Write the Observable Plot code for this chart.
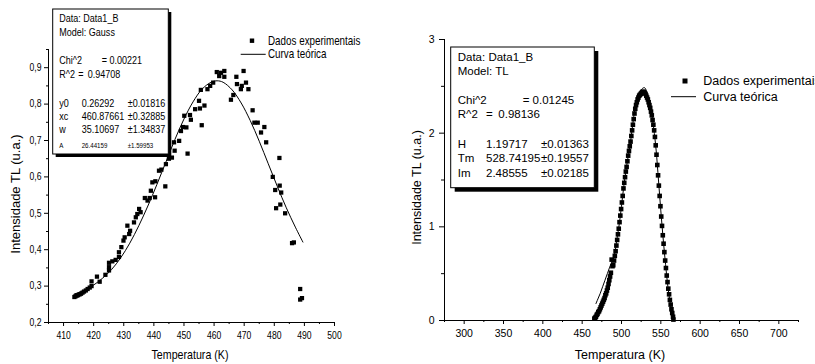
<!DOCTYPE html>
<html><head><meta charset="utf-8">
<script src="https://cdn.jsdelivr.net/npm/d3@7"></script>
<script src="https://cdn.jsdelivr.net/npm/@observablehq/plot@0.6"></script>
<style>
body{margin:0;background:#fff;}
#wrap{position:relative;width:815px;height:364px;overflow:hidden;background:#fff;}
#left,#right{position:absolute;top:0;}
#left{left:0;} #right{left:410px;}
</style></head><body><div id="wrap"><div id="left"></div><div id="right"></div></div>
<script>
// ---------- LEFT PANEL DATA (Gauss fit) ----------
const leftTemp = [413.6,414.0,414.4,414.8,415.3,415.8,416.3,416.8,417.4,418.0,418.7,419.3,419.3,421.1,422.0,423.9,425.1,425.1,425.1,426.2,427.3,428.4,428.4,429.2,429.9,430.3,431.2,431.8,432.1,433.4,434.0,434.5,435.1,435.6,437.0,437.9,438.6,439.0,439.5,440.4,440.5,441.7,442.5,443.8,444.0,445.0,446.0,446.9,446.7,448.4,449.0,449.7,450.8,450.1,451.2,452.0,452.3,453.7,455.0,455.3,455.6,455.9,456.8,457.8,458.7,459.7,460.9,461.7,462.3,463.4,463.4,465.6,466.4,467.4,467.6,468.9,469.2,469.8,470.6,471.4,472.8,473.4,474.5,475.6,476.7,477.3,479.5,480.3,480.6,481.7,481.8,482.3,482.0,483.6,485.9,486.5,488.6,488.6,489.2];
const leftInt = [0.270,0.272,0.274,0.275,0.277,0.279,0.282,0.285,0.288,0.292,0.296,0.300,0.313,0.326,0.312,0.331,0.343,0.352,0.364,0.368,0.372,0.380,0.393,0.407,0.425,0.434,0.466,0.443,0.452,0.475,0.489,0.498,0.512,0.503,0.542,0.535,0.542,0.562,0.585,0.544,0.588,0.617,0.620,0.574,0.635,0.650,0.653,0.672,0.695,0.699,0.726,0.737,0.736,0.768,0.664,0.770,0.757,0.786,0.809,0.788,0.839,0.742,0.796,0.841,0.850,0.859,0.888,0.877,0.886,0.891,0.875,0.812,0.825,0.875,0.855,0.841,0.850,0.891,0.859,0.841,0.783,0.749,0.749,0.722,0.737,0.695,0.600,0.564,0.514,0.652,0.576,0.557,0.524,0.500,0.418,0.420,0.292,0.263,0.267];
const leftCurveT = [413.5,417,420,423,426,429,432,435,438,441,444,447,450,453,456,459,461,463,466,469,472,475,478,481,484,487,489.5];
const leftCurveI = [0.278,0.289,0.303,0.322,0.346,0.378,0.418,0.466,0.520,0.579,0.641,0.703,0.759,0.806,0.841,0.860,0.864,0.860,0.839,0.803,0.755,0.698,0.636,0.574,0.515,0.462,0.421];
const leftXDomain = [405, 500];
const leftYDomain = [0.2, 0.95];
const leftXTicks = [410,420,430,440,450,460,470,480,490,500];
const leftXMinor = [405,415,425,435,445,455,465,475,485,495];
const leftYTicks = [0.2,0.3,0.4,0.5,0.6,0.7,0.8,0.9];
const leftYMinor = [0.25,0.35,0.45,0.55,0.65,0.75,0.85,0.95];
const leftBox = [["Data: Data1_B"],["Model: Gauss"],["Chi^2","= 0.00221"],["R^2","=","0.94708"],["y0","0.26292","±0.01816"],["xc","460.87661","±0.32885"],["w","35.10697","±1.34837"],["A","26.44159","±1.59953"]];

// ---------- RIGHT PANEL DATA (TL fit) ----------
const rightTemp = [465.5,466.5,467.5,468.5,469.5,470.5,471.5,472.5,473.5,474.5,475.5,476.5,477.5,478.5,479.5,480.5,481.5,482.5,483.5,484.5,485.5,486.5,487.5,488.5,489.5,490.5,491.5,492.5,493.5,494.5,495.5,496.5,497.5,498.5,499.5,500.5,501.5,502.5,503.5,504.5,505.5,506.5,507.5,508.5,509.5,510.5,511.5,512.5,513.5,514.5,515.5,516.5,517.5,518.5,519.5,520.5,521.5,522.5,523.5,524.5,525.5,526.5,527.5,528.5,529.5,530.5,531.5,532.5,533.5,534.5,535.5,536.5,537.5,538.5,539.5,540.5,541.5,542.5,543.5,544.5,545.5,546.5,547.5,548.5,549.5,550.5,551.5,552.5,553.5,554.5,555.5,556.5,557.5,558.5,559.5,560.5,561.5,562.5,563.5,564.5,565.5,566.0];
const rightInt = [0.02,0.03,0.04,0.06,0.07,0.09,0.10,0.12,0.14,0.16,0.18,0.20,0.22,0.24,0.27,0.29,0.32,0.35,0.39,0.43,0.47,0.51,0.65,0.58,0.59,0.64,0.69,0.74,0.80,0.86,0.92,0.98,1.05,1.12,1.19,1.26,1.33,1.41,1.47,1.53,1.59,1.64,1.70,1.76,1.81,1.86,1.91,1.97,2.03,2.09,2.15,2.21,2.26,2.30,2.33,2.36,2.38,2.40,2.41,2.42,2.43,2.44,2.44,2.44,2.43,2.42,2.40,2.38,2.36,2.33,2.30,2.27,2.23,2.19,2.14,2.09,2.03,1.96,1.87,1.77,1.66,1.55,1.44,1.33,1.22,1.11,1.01,0.91,0.82,0.73,0.64,0.56,0.48,0.41,0.34,0.28,0.22,0.17,0.12,0.08,0.04,0.01];
const rightCurveT = [467.5,470,473,476,479,482,485,488,491,494,497,500,503,506,509,512,515,518,521,524,527,529.5,532,535,538,541,544,547,550,553,556,559,562,565,566.5];
const rightCurveI = [0.18,0.23,0.29,0.36,0.43,0.50,0.57,0.63,0.70,0.86,1.02,1.22,1.44,1.62,1.78,1.94,2.14,2.30,2.40,2.45,2.48,2.485,2.44,2.34,2.22,2.05,1.82,1.50,1.17,0.87,0.60,0.36,0.18,0.05,0.0];
const rightXDomain = [275, 725];
const rightYDomain = [0, 3];
const rightXTicks = [300,350,400,450,500,550,600,650,700];
const rightXMinor = [275,325,375,425,475,525,575,625,675,725];
const rightYTicks = [0,1,2,3];
const rightYMinor = [0.5,1.5,2.5];
const rightBox = [["Data: Data1_B"],["Model: TL"],["Chi^2","= 0.01245"],["R^2","=","0.98136"],["H","1.19717","±0.01363"],["Tm","528.74195","±0.19557"],["Im","2.48555","±0.02185"]];

const legendLabels = ["Dados experimentais", "Curva teórica"];
const xTitle = "Temperatura (K)";
const yTitle = "Intensidade TL (u.a.)";

const REG = "'Liberation Sans',Arial,sans-serif";
const SQ = 0.82; // horizontal squeeze of the left panel's texts
const commaFmt = d => d.toFixed(1).replace(".", ",");
const intFmt = d => String(d);
const blank = () => "";

// ---------- LEFT PLOT ----------
const L = Plot.plot({
  width: 410, height: 364,
  marginLeft: 48, marginRight: 76, marginTop: 49, marginBottom: 42,
  style: {fontFamily: REG, fontSize: "10.5px", color: "black", background: "transparent", overflow: "visible"},
  x: {domain: leftXDomain},
  y: {domain: leftYDomain},
  marks: [
    Plot.axisX(leftXTicks, {tickSize: 4, tickPadding: 5, label: null}),
    Plot.axisX(leftXMinor, {tickSize: 2, tickFormat: blank, label: null}),
    Plot.axisY(leftYTicks, {tickSize: 4, tickPadding: 3, tickFormat: commaFmt, label: null}),
    Plot.axisY(leftYMinor, {tickSize: 2, tickFormat: blank, label: null}),
    Plot.ruleX([leftXDomain[0]], {stroke: "black"}),
    Plot.ruleY([leftYDomain[0]], {stroke: "black"}),
    Plot.line(leftCurveT.map((t, i) => ({t, v: leftCurveI[i]})), {x: "t", y: "v", stroke: "black", strokeWidth: 1, curve: "catmull-rom"}),
    Plot.dot(leftTemp.map((t, i) => ({t, v: leftInt[i]})), {x: "t", y: "v", symbol: "square", r: 2.4, fill: "black"})
  ]
});
document.getElementById("left").append(L);
// squeeze the left panel's tick labels horizontally (x stays, only glyph widths shrink)
d3.select(L).selectAll("text").each(function () {
  const t = this.getAttribute("transform") || "";
  this.setAttribute("transform", `${t} scale(${SQ},1)`);
});

// ---------- RIGHT PLOT ----------
const R = Plot.plot({
  width: 405, height: 364,
  marginLeft: 34, marginRight: 17, marginTop: 39, marginBottom: 44,
  style: {fontFamily: REG, fontSize: "10.5px", color: "black", background: "transparent", overflow: "visible"},
  x: {domain: rightXDomain},
  y: {domain: rightYDomain},
  marks: [
    Plot.axisX(rightXTicks, {tickSize: 4, tickPadding: 5, label: null}),
    Plot.axisX(rightXMinor, {tickSize: 2, tickFormat: blank, label: null}),
    Plot.axisY(rightYTicks, {tickSize: 5, tickPadding: 5, tickFormat: intFmt, label: null}),
    Plot.axisY(rightYMinor, {tickSize: 3, tickFormat: blank, label: null}),
    Plot.ruleX([rightXDomain[0]], {stroke: "black"}),
    Plot.ruleY([rightYDomain[0]], {stroke: "black"}),
    Plot.line(rightCurveT.map((t, i) => ({t, v: rightCurveI[i]})), {x: "t", y: "v", stroke: "black", strokeWidth: 1, curve: "catmull-rom"}),
    Plot.dot(rightTemp.map((t, i) => ({t, v: rightInt[i]})), {x: "t", y: "v", symbol: "square", r: 2.6, fill: "black"})
  ]
});
document.getElementById("right").append(R);

// ---------- ANNOTATIONS ----------
function txt(g, x, y, s, o) {
  return g.append("text")
    .attr("transform", `translate(${x},${y}) scale(${o.sx || 1},1)`)
    .attr("text-anchor", o.anchor || "start")
    .attr("font-family", REG).attr("font-size", o.fs).attr("fill", "black").text(s);
}
function statBox(svg, o) {
  const g = svg.append("g");
  g.append("rect").attr("x", o.x + o.off).attr("y", o.y + o.off).attr("width", o.w).attr("height", o.h).attr("fill", "black");
  g.append("rect").attr("x", o.x).attr("y", o.y).attr("width", o.w).attr("height", o.h).attr("fill", "white").attr("stroke", "black").attr("stroke-width", 1);
  o.rows.forEach((row, i) => {
    const fs = (o.small && i === o.rows.length - 1) ? o.small : o.fs;
    const xs = o.rowX[i] || o.cols;
    row.forEach((s, j) => txt(g, xs[j], o.ys[i], s, {fs, sx: o.sx}));
  });
}
function legend(svg, o) {
  const g = svg.append("g");
  g.append("rect").attr("x", o.mx - o.ms / 2).attr("y", o.my - o.ms / 2).attr("width", o.ms).attr("height", o.ms).attr("fill", "black");
  txt(g, o.tx, o.my + 4, legendLabels[0], {fs: o.fs, sx: o.sx});
  g.append("line").attr("x1", o.lx1).attr("x2", o.lx2).attr("y1", o.ly).attr("y2", o.ly).attr("stroke", "black");
  txt(g, o.tx, o.ly + 4, legendLabels[1], {fs: o.fs, sx: o.sx});
}
function titles(svg, o) {
  txt(svg, o.xx, o.xy, xTitle, {fs: o.fs, sx: o.sx, anchor: "middle"});
  svg.append("text").attr("transform", `translate(${o.yx},${o.yy}) rotate(-90)`).attr("text-anchor", "middle")
    .attr("font-family", REG).attr("font-size", o.fs).attr("fill", "black").text(yTitle);
}

const sL = d3.select(L);
statBox(sL, {x: 52.7, y: 9, w: 115.6, h: 145, off: 3, fs: 11, small: 7.5, sx: SQ,
  rows: leftBox, cols: [59.3, 81.7, 127.7], rowX: {2: [59.3, 101.7], 3: [59.3, 78.3, 87.7]},
  ys: [21.5, 36, 64, 78, 107, 120, 133, 147.5]});
legend(sL, {fs: 12, sx: SQ, mx: 252, my: 40.7, ms: 4.4, tx: 268, lx1: 240.7, lx2: 265.7, ly: 54.3});
titles(sL, {xx: 190, xy: 359, fs: 13, sx: SQ, yx: 20, yy: 194});

const sR = d3.select(R);
statBox(sR, {x: 40.7, y: 47, w: 143.6, h: 140.7, off: 4, fs: 11.5, sx: 1,
  rows: rightBox, cols: [47.7, 76, 131], rowX: {2: [47.7, 112.7], 3: [47.7, 76, 88.3]},
  ys: [61.3, 75.3, 104.3, 118.3, 147.7, 162, 176.7]});
legend(sR, {fs: 12.5, sx: 1, mx: 275, my: 81, ms: 5, tx: 293.3, lx1: 261, lx2: 286, ly: 96.7});
titles(sR, {xx: 210, xy: 359, fs: 12.5, sx: 1, yx: 11, yy: 187.5});
</script>
</body></html>
